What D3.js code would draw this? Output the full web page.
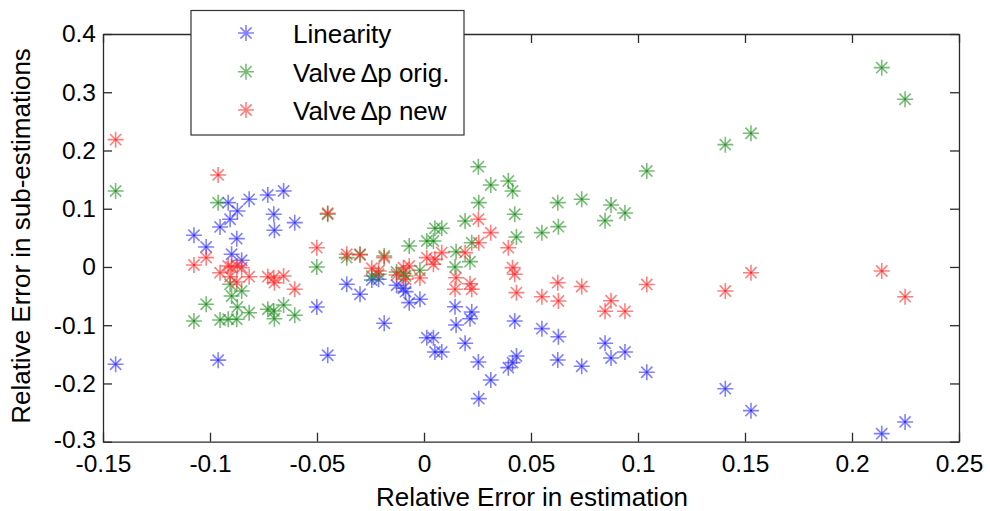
<!DOCTYPE html>
<html>
<head>
<meta charset="utf-8">
<script src="https://cdn.jsdelivr.net/npm/d3@7"></script>
<style>
  html, body { margin: 0; padding: 0; background: #fff; }
  svg { display: block; font-family: "Liberation Sans", Arial, sans-serif; }
</style>
</head>
<body>
<svg id="chart" width="990" height="511"></svg>
<script>
// ---- data ----
const xVals = [
  -0.1441, -0.1075, -0.1018, -0.0962, -0.0953, -0.0915, -0.0906, -0.0899, -0.0875, -0.0872,
  -0.0852, -0.0817, -0.0730, -0.0702, -0.0699, -0.0656, -0.0604, -0.0501, -0.0450, -0.0361,
  -0.0299, -0.0244, -0.0212, -0.0186, -0.0128, -0.0096, -0.0086, -0.0069, -0.0019, 0.0013,
  0.0044, 0.0051, 0.0083, 0.0145, 0.0150, 0.0192, 0.0215, 0.0223, 0.0254, 0.0256,
  0.0312, 0.0394, 0.0414, 0.0424, 0.0432, 0.0551, 0.0625, 0.0628, 0.0737, 0.0846,
  0.0874, 0.0939, 0.1041, 0.1408, 0.1528, 0.2139, 0.2248
];
const linearity = [
  -0.167, 0.0544, 0.0343, -0.160, 0.0687, 0.1104, 0.0819, 0.0218, 0.0486, 0.0962,
  0.0115, 0.1162, 0.1236, 0.0905, 0.0630, 0.1305, 0.0761, -0.0687, -0.1516, -0.0297,
  -0.0469, -0.0223, -0.0211, -0.0967, -0.0314, -0.0366, -0.0424, -0.0613, -0.0555, -0.1214,
  -0.1214, -0.1459, -0.1459, -0.0682, -0.0996, -0.1310, -0.0888, -0.0773, -0.1631, -0.2261,
  -0.1940, -0.1729, -0.1643, -0.0927, -0.1528, -0.1059, -0.1597, -0.1197, -0.1705, -0.1310,
  -0.1563, -0.1459, -0.1808, -0.2090, -0.2467, -0.2862, -0.2661
];
const valveOrig = [
  0.1305, -0.0927, -0.0640, 0.1104, -0.0910, -0.0898, -0.0297, -0.0498, -0.0898, -0.0687,
  -0.0412, -0.0785, -0.0726, -0.0755, -0.0888, -0.0652, -0.0829, 0.0000, 0.0905, 0.0160,
  0.0218, -0.0155, -0.0125, 0.0189, -0.0086, -0.0108, -0.0155, 0.0361, -0.0057, 0.0446,
  0.0446, 0.0664, 0.0664, 0.0000, 0.0263, 0.0790, 0.0091, 0.0417, 0.1722, 0.1104,
  0.1408, 0.1477, 0.1305, 0.0905, 0.0515, 0.0589, 0.1104, 0.0692, 0.1162, 0.0795,
  0.1065, 0.0927, 0.1648, 0.2100, 0.2296, 0.3422, 0.2879
];
const valveNew = [
  0.2186, 0.0034, 0.0160, 0.1580, -0.0098, 0.0017, -0.0167, 0.0000, -0.0258, 0.0017,
  -0.0012, -0.0167, -0.0167, -0.0184, -0.0270, -0.0155, -0.0383, 0.0331, 0.0922, 0.0218,
  0.0206, -0.0022, -0.0069, 0.0160, -0.0137, -0.0012, -0.0211, 0.0017, -0.0189, 0.0160,
  0.0046, 0.0132, 0.0246, -0.0383, -0.0184, 0.0246, -0.0287, -0.0383, 0.0819, 0.0417,
  0.0589, 0.0331, -0.0012, -0.0125, -0.0441, -0.0510, -0.0270, -0.0584, -0.0335, -0.0761,
  -0.0580, -0.0761, -0.0300, -0.0412, -0.0098, -0.0069, -0.0510
];
const seriesNames = ["Valve\u2009\u2206p orig.", "Valve\u2009\u2206p new"];
const seriesNamesAll = ["Linearity"].concat(seriesNames);
const seriesColors = ["#2b2bff", "#1f8f1f", "#ff2a2a"];
const xTickValues = [-0.15, -0.1, -0.05, 0, 0.05, 0.1, 0.15, 0.2, 0.25];
const xTickLabels = ["-0.15", "-0.1", "-0.05", "0", "0.05", "0.1", "0.15", "0.2", "0.25"];
const yTickValues = [-0.3, -0.2, -0.1, 0, 0.1, 0.2, 0.3, 0.4];
const yTickLabels = ["-0.3", "-0.2", "-0.1", "0", "0.1", "0.2", "0.3", "0.4"];
const xTitle = "Relative Error in estimation";
const yTitle = "Relative Error in sub-estimations";

// ---- layout ----
const svg = d3.select("#chart");
const L = 103, R = 959, T = 34, B = 441.7;
const x = d3.scaleLinear().domain([-0.15, 0.25]).range([L, R]);
const y = d3.scaleLinear().domain([-0.3, 0.4]).range([B, T]);
const axisColor = "#2a2a2a";

// axes
const gx = svg.append("g").attr("transform", `translate(0,${B})`)
  .call(d3.axisBottom(x).tickValues(xTickValues).tickFormat((d, i) => xTickLabels[i])
    .tickSizeInner(-9).tickSizeOuter(0).tickPadding(13));
const gy = svg.append("g").attr("transform", `translate(${L},0)`)
  .call(d3.axisLeft(y).tickValues(yTickValues).tickFormat((d, i) => yTickLabels[i])
    .tickSizeInner(-9).tickSizeOuter(0).tickPadding(7));
const gt = svg.append("g").attr("transform", `translate(0,${T})`)
  .call(d3.axisTop(x).tickValues(xTickValues).tickFormat("").tickSizeInner(-9).tickSizeOuter(0));
const gr = svg.append("g").attr("transform", `translate(${R},0)`)
  .call(d3.axisRight(y).tickValues(yTickValues).tickFormat("").tickSizeInner(-9).tickSizeOuter(0));
[gx, gy, gt, gr].forEach(g => {
  g.selectAll("path.domain").attr("stroke", axisColor).attr("stroke-width", 1.3);
  g.selectAll(".tick line").attr("stroke", axisColor).attr("stroke-width", 1.3);
  g.selectAll(".tick text").attr("fill", "#000").style("font-size", "24.5px")
    .style("font-family", '"Liberation Sans", Arial, sans-serif');
});
// keep the lowest y label clear of the first x label
gy.selectAll(".tick text").filter((d, i) => i === 0).attr("dy", "0.22em");

// asterisk marker (MATLAB '*')
const a = 8, d = 5.6;
const starPath = `M${-a},0H${a}M0,${-a}V${a}M${-d},${-d}L${d},${d}M${-d},${d}L${d},${-d}`;

function drawSeries(vals, color) {
  const g = svg.append("g");
  const pts = xVals.map((xv, i) => [xv, vals[i]]);
  g.selectAll("path").data(pts).join("path")
    .attr("transform", p => `translate(${x(p[0])},${y(p[1])})`)
    .attr("d", starPath)
    .attr("fill", "none")
    .attr("stroke", color)
    .attr("stroke-width", 1.6)
    .attr("stroke-opacity", 0.6);
  g.selectAll("rect").data(pts).join("rect")
    .attr("x", p => x(p[0]) - 1).attr("y", p => y(p[1]) - 1)
    .attr("width", 2).attr("height", 2)
    .attr("fill", color);
}
drawSeries(linearity, seriesColors[0]);
drawSeries(valveOrig, seriesColors[1]);
drawSeries(valveNew, seriesColors[2]);

// legend
const lg = svg.append("g");
lg.append("rect").attr("x", 191).attr("y", 10.5).attr("width", 273).attr("height", 124.5)
  .attr("fill", "#fff").attr("stroke", "#333").attr("stroke-width", 1.2);
const rowY = [33, 71.7, 110];
seriesNamesAll.forEach((name, i) => {
  lg.append("path").attr("transform", `translate(246,${rowY[i]})`).attr("d", starPath)
    .attr("fill", "none").attr("stroke", seriesColors[i]).attr("stroke-width", 1.6)
    .attr("stroke-opacity", 0.6);
  lg.append("text").attr("x", 293).attr("y", rowY[i] + 10.3)
    .style("font-size", "26px").attr("fill", "#000").text(name);
});

// axis titles
svg.append("text").attr("x", (L + R) / 2 + 1).attr("y", 506)
  .attr("text-anchor", "middle").style("font-size", "26px").attr("fill", "#000").text(xTitle);
svg.append("text").attr("transform", "translate(30,236) rotate(-90)")
  .attr("text-anchor", "middle").style("font-size", "26px").attr("fill", "#000").text(yTitle);
</script>
</body>
</html>
